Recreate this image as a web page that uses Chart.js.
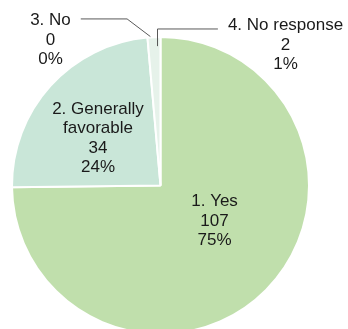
<!DOCTYPE html>
<html>
<head>
<meta charset="utf-8">
<script src="https://cdn.jsdelivr.net/npm/chart.js@4"></script>
<style>
  html, body { margin: 0; padding: 0; background: #fff; overflow: hidden; }
  #wrap { width: 348px; height: 329px; overflow: hidden; }
</style>
</head>
<body>
<div id="wrap"><canvas id="pie" width="348" height="335"></canvas></div>
<script>
// data
const categories = ["1. Yes", "2. Generally favorable", "3. No", "4. No response"];
const counts = [107, 34, 0, 2];
const sliceColors = ["#c0dfac", "#c9e6d8", "#d8eddf", "#e6f2ea"];

// where each label block sits, as a fraction of the radius from the centre
const labelPos = [
  { dx: 0.364, dy: 0.229, lines: ["1. Yes"] },
  { dx: -0.421, dy: -0.327, lines: ["2. Generally", "favorable"] },
  { dx: -0.741, dy: -0.987, lines: ["3. No"], leader: "left" },
  { dx: 0.842, dy: -0.953, lines: ["4. No response"], leader: "right" }
];

const total = counts.reduce((a, b) => a + b, 0);

const labelPlugin = {
  id: "sliceLabels",
  afterDraw(chart) {
    const ctx = chart.ctx;
    const meta = chart.getDatasetMeta(0);
    const lh = 19.5;
    ctx.save();
    ctx.font = "17px 'Liberation Sans', Arial, sans-serif";
    ctx.textAlign = "center";
    ctx.textBaseline = "alphabetic";
    meta.data.forEach((arc, i) => {
      const p = labelPos[i];
      const r = arc.outerRadius;
      const ax = arc.x + p.dx * r;
      const ay = arc.y + p.dy * r;
      const pct = Math.round(counts[i] / total * 100);
      const lines = p.lines.concat([String(counts[i]), pct + "%"]);
      const n = lines.length;
      let maxW = 0;
      lines.forEach((t, k) => {
        const by = ay + (k - (n - 1) / 2) * lh + 6;
        ctx.fillStyle = "#1a1a1a";
        ctx.fillText(t, ax, by);
        maxW = Math.max(maxW, ctx.measureText(t).width);
      });
      if (p.leader) {
        const mid = (arc.startAngle + arc.endAngle) / 2;
        const y0 = ay - (n - 1) / 2 * lh - 0.5;
        ctx.strokeStyle = "#595959";
        ctx.lineWidth = 1;
        ctx.beginPath();
        if (p.leader === "left") {
          const ex = arc.x + Math.cos(mid) * (r + 1);
          const ey = arc.y + Math.sin(mid) * (r + 1);
          const sx = ax + ctx.measureText(p.lines[0]).width / 2 + 10;
          ctx.moveTo(sx, y0);
          ctx.lineTo(ex - 1.15 * (ey - y0), y0);
          ctx.lineTo(ex + 3, ey);
        } else {
          const ex = arc.x + Math.cos(mid) * (r - 9) + 3;
          const ey = arc.y + Math.sin(mid) * (r - 9);
          const sx = ax - ctx.measureText(p.lines[0]).width / 2 - 10;
          ctx.moveTo(sx, y0 + 5);
          ctx.lineTo(Math.round(ex) + 0.5, y0 + 5);
          ctx.lineTo(Math.round(ex) + 0.5, ey);
        }
        ctx.stroke();
      }
    });
    ctx.restore();
  }
};

new Chart(document.getElementById("pie"), {
  type: "pie",
  plugins: [labelPlugin],
  data: {
    labels: categories,
    datasets: [{
      data: counts,
      backgroundColor: sliceColors,
      borderColor: "#ffffff",
      borderWidth: 2
    }]
  },
  options: {
    responsive: false,
    animation: false,
    layout: { padding: { left: 11, right: 38, top: 36, bottom: 0 } },
    plugins: {
      legend: { display: false },
      tooltip: { enabled: false }
    }
  }
});
</script>
</body>
</html>
